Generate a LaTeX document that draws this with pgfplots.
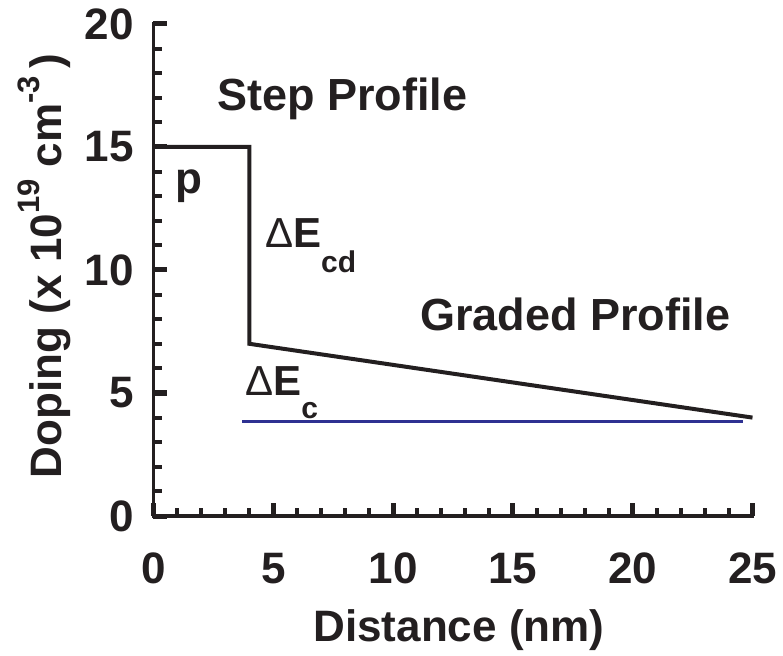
\documentclass[border=0pt]{standalone}
\usepackage{pgfplots}
\pgfplotsset{compat=1.18}
\usepackage{fontspec}
\setmainfont{Liberation Sans}
\definecolor{dblue}{RGB}{46,49,146}
\definecolor{ink}{RGB}{35,31,32}
\begin{document}
\begin{tikzpicture}
\begin{axis}[
  scale only axis, width=599pt, height=492pt,
  xmin=0, xmax=25, ymin=0, ymax=20,
  axis line style={draw=none},
  xtick pos=bottom, ytick pos=left,
  xtick={0,5,...,25}, ytick={0,5,...,20},
  minor x tick num=4, minor y tick num=4,
  tick align=inside, major tick length=13pt, minor tick length=8pt,
  every tick/.append style={ink, line width=5pt},
  every major tick/.append style={ink, line width=5pt},
  every minor tick/.append style={ink, line width=4pt},
  /pgf/number format/assume math mode=true,
  ticklabel style={font=\fontsize{44}{50}\selectfont\bfseries, inner sep=0pt, text=ink},
  xticklabel style={anchor=north, yshift=-37pt},
  yticklabel style={anchor=east, xshift=-19.5pt},
  label style={font=\fontsize{44}{50}\selectfont\bfseries, inner sep=0pt, text=ink},
  xlabel={Distance (nm)},
  xlabel style={at={(axis description cs:0.510,-0.256)}, anchor=base},
  ylabel={Doping (x 10\raisebox{0.5em}{\fontsize{31}{31}\selectfont 19} cm\raisebox{0.5em}{\fontsize{31}{31}\selectfont -3}\,)},
  ylabel style={at={(axis description cs:-0.1528,0.508)}, anchor=base, rotate=0},
  clip=false,
]
\addplot[ink, line width=4pt] coordinates {(0,15) (4,15) (4,7) (25,4)};
\addplot[dblue, line width=3pt] coordinates {(3.7,3.85) (24.6,3.85)};
\draw[ink, line width=3.5pt, line cap=rect] (rel axis cs:0,1) -- (rel axis cs:0,0) -- (rel axis cs:1,0);
\node[anchor=base west, inner sep=0pt, text=ink, font=\fontsize{45}{45}\selectfont\bfseries] at (axis cs:2.65,16.5) {Step Profile};
\node[anchor=base west, inner sep=0pt, text=ink, font=\fontsize{45}{45}\selectfont\bfseries] at (axis cs:11.12,7.56) {Graded Profile};
\node[anchor=base west, inner sep=0pt, text=ink, font=\fontsize{44}{44}\selectfont\bfseries] at (axis cs:0.9,13.1) {p};
\node[anchor=base west, inner sep=0pt, text=ink, font=\fontsize{42}{42}\selectfont] at (axis cs:4.65,10.9) {Δ\textbf{E}\raisebox{-25pt}{\fontsize{30}{30}\selectfont\bfseries cd}};
\node[anchor=base west, inner sep=0pt, text=ink, font=\fontsize{42}{42}\selectfont] at (axis cs:3.82,4.88) {Δ\textbf{E}\raisebox{-23pt}{\fontsize{30}{30}\selectfont\bfseries c}};
\end{axis}
\pgfresetboundingbox
\useasboundingbox (-153.5pt,-139pt) rectangle (629.5pt,516pt);
\end{tikzpicture}
\end{document}
